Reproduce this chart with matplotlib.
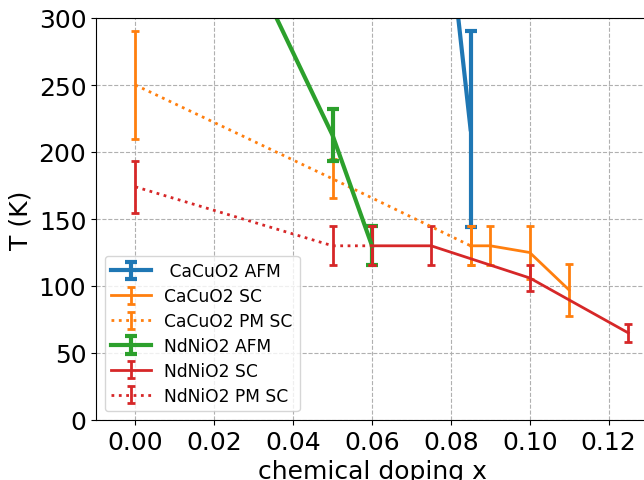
import matplotlib
matplotlib.use("Agg")
import matplotlib.pyplot as plt

# CaCuO2 AFM
cu_afm_x = [0.08, 0.085]
cu_afm_T = [350, 217]
cu_afm_err = [0, 73]

# CaCuO2 SC
cu_sc_x = [0.085, 0.09, 0.10, 0.11]
cu_sc_T = [130, 130, 125, 97]
cu_sc_err = [14.5, 14.5, 20, 19.5]

# CaCuO2 PM SC
cu_pm_x = [0.0, 0.05, 0.085]
cu_pm_T = [250, 180, 130]
cu_pm_err = [40, 14.5, 14.5]

# NdNiO2 AFM
ni_afm_x = [0.0, 0.05, 0.06]
ni_afm_T = [520, 212.5, 130]
ni_afm_err = [0, 19.5, 14.5]

# NdNiO2 SC
ni_sc_x = [0.06, 0.075, 0.10, 0.125]
ni_sc_T = [130, 130, 106, 65]
ni_sc_err = [14.5, 14.5, 10, 7]

# NdNiO2 PM SC
ni_pm_x = [0.0, 0.05, 0.06]
ni_pm_T = [174, 130, 130]
ni_pm_err = [19.5, 14.5, 14.5]

fig = plt.figure(figsize=(6.44, 4.81), dpi=100)
ax = fig.add_axes([96 / 644, 60 / 481, 552 / 644, 402 / 481])

ax.errorbar(cu_afm_x, cu_afm_T, yerr=cu_afm_err, color='tab:blue', lw=3,
            capsize=4, capthick=3, label=' CaCuO2 AFM')
ax.errorbar(cu_sc_x, cu_sc_T, yerr=cu_sc_err, color='tab:orange', lw=2,
            capsize=3, capthick=2, label='CaCuO2 SC')
ax.errorbar(cu_pm_x, cu_pm_T, yerr=cu_pm_err, color='tab:orange', lw=2, ls=':',
            capsize=3, capthick=2, label='CaCuO2 PM SC')
ax.errorbar(ni_afm_x, ni_afm_T, yerr=ni_afm_err, color='tab:green', lw=3,
            capsize=4, capthick=3, label='NdNiO2 AFM')
ax.errorbar(ni_sc_x, ni_sc_T, yerr=ni_sc_err, color='tab:red', lw=2,
            capsize=3, capthick=2, label='NdNiO2 SC')
ax.errorbar(ni_pm_x, ni_pm_T, yerr=ni_pm_err, color='tab:red', lw=2, ls=':',
            capsize=3, capthick=2, label='NdNiO2 PM SC')

ax.set_xlim(-0.01, 0.13)
ax.set_ylim(0, 300)
ax.set_xticks([0.0, 0.02, 0.04, 0.06, 0.08, 0.10, 0.12])
ax.set_yticks([0, 50, 100, 150, 200, 250, 300])
ax.tick_params(labelsize=18)
ax.set_xlabel('chemical doping x', fontsize=18)
ax.set_ylabel('T (K)', fontsize=18)
ax.grid(True, ls='--', color='#b0b0b0')
ax.legend(loc='lower left', fontsize=12.3, handlelength=2.3, labelspacing=0.4)

plt.savefig('out.png', dpi=100)
